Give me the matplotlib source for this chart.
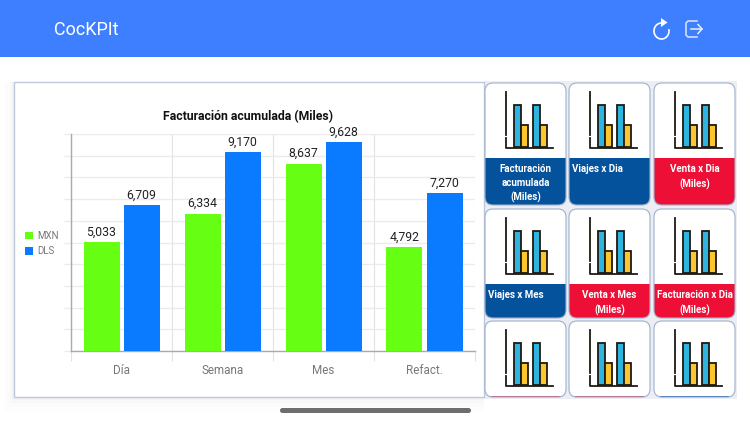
import numpy as np
import matplotlib
matplotlib.use("Agg")
import matplotlib.pyplot as plt
from matplotlib.patches import Arc, FancyBboxPatch, Polygon, Rectangle

plt.rcParams["font.family"] = ["Roboto", "DejaVu Sans"]

categories = ["Día", "Semana", "Mes", "Refact."]
mxn = [5033, 6334, 8637, 4792]
dls = [6709, 9170, 9628, 7270]
series_names = ["MXN", "DLS"]
chart_title = "Facturación acumulada (Miles)"
app_title = "CocKPIt"
card_labels = [
    "Facturación\nacumulada\n(Miles)", "Viajes x Dia", "Venta x Dia\n(Miles)",
    "Viajes x Mes", "Venta x Mes\n(Miles)", "Facturación x Dia\n(Miles)",
    "", "", "",
]
card_colors = ["#04529C", "#04529C", "#EE0F36",
               "#04529C", "#EE0F36", "#EE0F36",
               "#D3324A", "#D3324A", "#04529C"]

W, H = 750, 422
GREEN = "#66FF14"
BLUE = "#0A7BFF"
col_x = [485, 569, 654]
row_y = [(83, 205, 158), (209, 318, 284), (321, 397, 395.5)]


def rect_px(x0, y0, x1, y1):
    return [x0 / W, 1 - y1 / H, (x1 - x0) / W, (y1 - y0) / H]


def draw_icon(ax, x, y):
    # x, y = top of the vertical axis of the little bar icon
    dark = "#1E1A14"
    for bx, top, c in [(8, 13, "#2FB4E0"), (15, 33, "#FBC62E"),
                       (27, 13, "#2FB4E0"), (34, 33, "#FBC62E")]:
        ax.add_patch(Rectangle((x + bx, y + top), 7, 55 - top, fc=c, ec=dark, lw=1.3, zorder=5))
    ax.plot([x, x], [y, y + 43], color=dark, lw=1.3, zorder=6)
    ax.plot([x, x, x + 47], [y + 46, y + 56, y + 56], color=dark, lw=1.3, zorder=6)


fig = plt.figure(figsize=(7.5, 4.22), dpi=100)

# ui layer in pixel coordinates
ui = fig.add_axes([0, 0, 1, 1])
ui.set_xlim(0, W); ui.set_ylim(H, 0); ui.axis("off")

ui.add_patch(Rectangle((0, 0), W, 57, fc="#3D7FFF", ec="none"))
ui.text(54, 30, app_title, color="white", fontsize=13, va="center")

# refresh / exit icons
ui.add_patch(Arc((661.5, 31), 15, 16, theta1=-15, theta2=270, color="white", lw=1.2))
ui.add_patch(Polygon([[661, 18], [667.5, 22.5], [661, 27]], fc="white", ec="none"))
ui.plot([697, 688, 686, 686, 688, 697], [21, 21, 23, 35, 37, 37], color="#CFE0FF", lw=1.2)
ui.plot([691, 702], [29, 29], color="#E8F0FF", lw=1.1)
ui.plot([698, 702, 698], [24.5, 29, 33.5], color="#E8F0FF", lw=1.1)

# soft shadow + chart card
for i, a in zip([10, 7, 4, 2], [0.006, 0.008, 0.012, 0.02]):
    ui.add_patch(Rectangle((14 - i, 82), 470 + i, 315 + i * 1.4, fc="black", alpha=a, ec="none"))
ui.add_patch(Rectangle((484, 81), 253, 318, fc="#ECEEF3", ec="none"))
ui.add_patch(Rectangle((14, 82), 470, 315, fc="white", ec="#BFC8DA", lw=1))

# tile grid
for i, label in enumerate(card_labels):
    x0 = col_x[i % 3]
    y0, y1, band = row_y[i // 3]
    c = card_colors[i]
    box = FancyBboxPatch((x0 + 4, y0 + 4), 73, y1 - y0 - 8, boxstyle="round,pad=4,rounding_size=8",
                         fc="white", ec="none", zorder=2)
    ui.add_patch(box)
    strip = Rectangle((x0, band), 81, y1 - band + 2, fc=c, ec="none", zorder=3)
    ui.add_patch(strip)
    strip.set_clip_path(box)
    ui.add_patch(FancyBboxPatch((x0 + 4, y0 + 4), 73, y1 - y0 - 8, boxstyle="round,pad=4,rounding_size=8",
                                fc="none", ec="#9FB0CE", lw=0.8, zorder=4))
    draw_icon(ui, x0 + 21, y0 + 9)
    if label:
        left = label in ("Viajes x Dia", "Viajes x Mes")
        tx = x0 + 3 if left else x0 + 40.5
        ui.text(tx, band + 6.5, label, color="white", fontsize=7, fontweight="bold",
                ha="left" if left else "center", va="top", linespacing=1.45, zorder=6)

# home bar
ui.add_patch(FancyBboxPatch((280, 408), 191, 5, boxstyle="round,pad=0,rounding_size=2.5",
                            fc="#6E6E70", ec="none"))

# chart
ax = fig.add_axes(rect_px(71, 134, 475, 351))
ax.patch.set_alpha(0)
x = np.arange(len(categories))
bw = 36 / 101
off = 20 / 101
bars1 = ax.bar(x - off, mxn, bw, color=GREEN, label=series_names[0], zorder=3)
bars2 = ax.bar(x + off, dls, bw, color=BLUE, label=series_names[1], zorder=3)
for bars in (bars1, bars2):
    for b in bars:
        ax.annotate(f"{int(b.get_height()):,}", (b.get_x() + bw / 2, b.get_height()),
                    xytext=(0, 2.5), textcoords="offset points", ha="center", va="bottom",
                    fontsize=8.8, color="#222222", zorder=5)

ax.set_xlim(-0.5, len(categories) - 0.5)
ax.set_ylim(0, 10000)
ax.set_yticks(np.arange(0, 10001, 1000))
ax.set_yticklabels([])
ax.set_xticks(x)
ax.set_xticklabels(categories, fontsize=8.4, color="#777777")
ax.set_xticks(np.arange(len(categories) + 1) - 0.5, minor=True)
ax.tick_params(axis="x", which="major", length=0, pad=9)
ax.tick_params(axis="x", which="minor", length=7.2, color="#E2E2E2", width=0.8)
ax.tick_params(axis="y", length=5, color="#EBEBEB", width=1)
ax.grid(axis="y", color="#EBEBEB", lw=1, zorder=0)
ax.grid(axis="x", which="minor", color="#E2E2E2", lw=0.8, zorder=0)
ax.set_axisbelow(True)
for s in ("top", "right"):
    ax.spines[s].set_visible(False)
for s in ("left", "bottom"):
    ax.spines[s].set_color("#AAAAAA")
    ax.spines[s].set_linewidth(1)
fig.text(248.5 / W, 1 - 116.5 / H, chart_title, ha="center", va="center",
         fontsize=8.8, fontweight="bold", color="#111111")

fig.legend(handles=[bars1, bars2], labels=series_names, loc="center left",
           bbox_to_anchor=(25 / W, 1 - 243.5 / H), frameon=False, fontsize=7,
           labelcolor="#777777", handlelength=0.82, handleheight=0.82,
           handletextpad=0.41, labelspacing=0.55, borderpad=0, borderaxespad=0)

fig.savefig("out.png", dpi=100)
